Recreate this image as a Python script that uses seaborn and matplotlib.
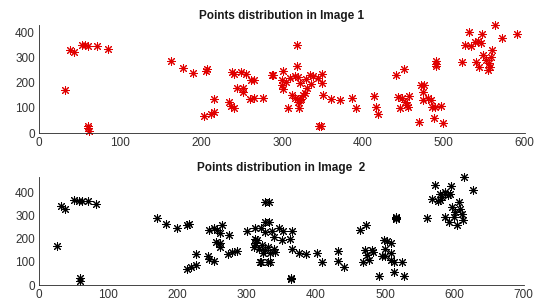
import matplotlib
matplotlib.use("Agg")
import matplotlib.pyplot as plt
import numpy as np
import pandas as pd
import seaborn as sns

img1_x = [32, 38, 43, 53, 57, 61, 72, 85, 60, 61, 62,
          163, 178, 190, 206, 208, 238, 241, 249, 256, 245, 252, 252, 262, 266,
          216, 235, 237, 241, 204, 212, 216, 261, 266, 276, 288,
          318, 318, 289, 301, 300, 300, 301,
          305, 310, 316, 320, 322, 330, 335, 338, 345, 350, 350, 336, 331,
          312, 316, 322, 326, 328, 320, 324,
          308, 321, 351, 361, 372, 386, 392, 348, 346,
          414, 416, 419, 441, 451, 444, 448, 452, 455, 446, 456, 457, 469,
          472, 476, 474, 474, 481, 484, 485, 489, 497, 488, 499, 490, 490, 490,
          523, 531, 526, 533, 538, 542, 547, 546, 540, 544, 557,
          549, 552, 556, 558, 560, 554, 563, 572, 591]
img1_y = [170, 330, 321, 351, 350, 345, 347, 334, 30, 20, 10,
          286, 260, 239, 246, 255, 242, 236, 242, 233, 181, 181, 164, 210, 212,
          134, 125, 107, 101, 66, 75, 85, 134, 141, 141, 229,
          350, 266, 229, 245, 213, 190, 177,
          205, 218, 228, 222, 200, 215, 232, 228, 220, 233, 200, 195, 180,
          150, 140, 132, 150, 160, 125, 135,
          101, 101, 153, 135, 131, 138, 101, 30, 29,
          148, 105, 76, 229, 253, 144, 141, 124, 111, 98, 105, 148, 43,
          190, 190, 164, 131, 138, 131, 105, 102, 107, 59, 39, 286, 275, 266,
          282, 402, 350, 348, 361, 367, 393, 360, 282, 262, 262,
          311, 291, 278, 304, 330, 249, 429, 380, 393]

img2_x = [26, 31, 37, 51, 57, 62, 70, 82, 59, 59,
          170, 184, 199, 214, 216, 245, 252, 257, 262, 264, 255, 262, 262, 274,
          214, 220, 226, 226, 244, 246, 252, 273, 279, 286,
          300, 312, 310, 312, 315, 312, 326, 326, 321, 330,
          332, 332, 320, 327, 336, 346, 353, 365, 363, 351, 339,
          322, 327, 331, 339, 334, 341, 324, 317, 319, 334,
          365, 375, 385, 401, 408, 364, 364, 432, 432, 441,
          463, 472, 471, 474, 476, 481, 468, 491,
          498, 503, 508, 500, 508, 500, 495, 508, 512, 524, 483, 512, 527,
          515, 515, 515, 561, 572,
          567, 579, 582, 591, 593, 579, 586, 576, 595, 614, 627,
          606, 596, 601, 608, 611, 599, 587, 592, 604, 613]
img2_y = [170, 342, 331, 370, 365, 362, 365, 352, 29, 17,
          292, 266, 245, 259, 263, 237, 245, 237, 226, 259, 187, 180, 165, 216,
          69, 76, 86, 134, 125, 111, 104, 134, 144, 147,
          235, 249, 165, 180, 195, 200, 360, 273, 101, 101,
          360, 273, 245, 230, 233, 249, 235, 235, 201, 194, 208,
          173, 151, 166, 158, 137, 144, 137, 158, 101, 101,
          158, 137, 134, 140, 101, 26, 30, 148, 105, 76,
          237, 259, 150, 130, 108, 151, 101, 39,
          194, 190, 183, 158, 137, 125, 125, 108, 101, 101, 144, 58, 39,
          295, 285, 290, 291, 435,
          374, 367, 381, 388, 395, 395, 402, 364, 430, 470, 410,
          360, 338, 317, 331, 309, 295, 295, 273, 259, 280]

sns.set_theme(style="white")
plt.rcParams["font.family"] = ["Liberation Sans", "DejaVu Sans"]

df1 = pd.DataFrame({"x": img1_x, "y": img1_y})
df2 = pd.DataFrame({"x": img2_x, "y": img2_y})

fig = plt.figure(figsize=(5.36, 3.01), dpi=100)
ax1 = fig.add_axes([0.073, 0.558, 0.906, 0.359])
ax2 = fig.add_axes([0.073, 0.053, 0.904, 0.359])

panels = [
    (ax1, df1, "#e00000", "Points distribution in Image 1", (0, 600), np.arange(0, 601, 100), (0, 430)),
    (ax2, df2, "black", "Points distribution in Image  2", (0, 700), np.arange(0, 701, 100), (0, 468)),
]
for ax, df, color, title, xlim, xticks, ylim in panels:
    sns.scatterplot(data=df, x="x", y="y", ax=ax, marker=(8, 2, 0), s=32,
                    color=color, edgecolor=color, linewidth=0.75, clip_on=False)
    ax.set_xlim(*xlim)
    ax.set_ylim(*ylim)
    ax.set_xticks(xticks)
    ax.set_yticks(np.arange(0, 401, 100))
    ax.set_xlabel("")
    ax.set_ylabel("")
    ax.set_title(title, fontsize=8.5, fontweight="bold", color="#1a1a1a", pad=4)
    for side in ("top", "right"):
        ax.spines[side].set_visible(False)
    for side in ("left", "bottom"):
        ax.spines[side].set_color("#262626")
        ax.spines[side].set_linewidth(0.6)
    ax.tick_params(direction="in", length=3, width=0.6, colors="#333333",
                   labelsize=8.5, pad=3)

fig.savefig("out.png", dpi=100)
